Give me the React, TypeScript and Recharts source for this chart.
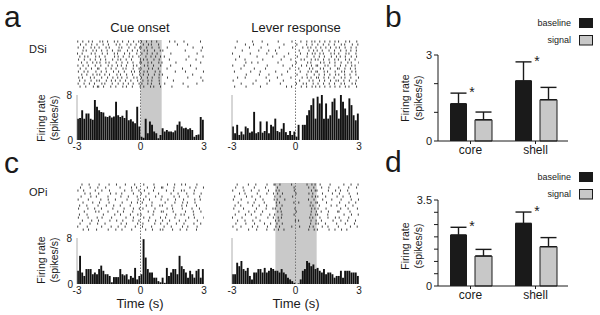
import React from 'react';
import {
  BarChart, Bar, XAxis, YAxis, ScatterChart, Scatter,
  ReferenceArea, ReferenceLine, ErrorBar, LabelList,
} from 'recharts';

const FONT = '"Liberation Sans", Arial, Helvetica, sans-serif';
const INK = '#1a1a1a';
const SHADE = '#c9c9c9';

// PSTH firing rate (spikes/s), 0.1 s bins from -3 s to +3 s
const dsiCueRate = [
  3.8, 3.9, 5.3, 3.8, 4.7, 4.7, 3.8, 3.6, 7.1, 5.9,
  5.3, 5.0, 4.9, 4.2, 4.1, 4.3, 4.0, 4.2, 6.8, 4.4,
  4.1, 4.3, 3.9, 5.3, 3.5, 3.7, 3.3, 3.0, 5.9, 2.4,
  0.6, 0.4, 3.8, 1.2, 3.3, 2.7, 1.5, 1.2, 0.3, 0.9,
  2.1, 1.5, 1.8, 1.5, 1.5, 1.4, 1.7, 2.7, 3.3, 2.4,
  2.1, 2.2, 1.9, 2.1, 1.8, 0.6, 0.9, 1.0, 4.1, 3.6,
];
const dsiLeverRate = [
  2.4, 1.2, 2.7, 0.9, 1.5, 1.0, 2.4, 2.1, 1.3, 1.5,
  5.0, 1.2, 1.4, 3.3, 1.3, 1.6, 3.3, 1.2, 2.7, 2.4,
  3.8, 1.6, 1.4, 2.0, 3.0, 1.4, 0.9, 1.6, 0.9, 1.5,
  0.6, 2.7, 0.0, 2.7, 2.7, 4.4, 5.3, 6.2, 7.4, 3.8,
  7.7, 6.5, 8.0, 3.8, 6.5, 3.8, 4.4, 6.8, 7.4, 5.3,
  3.8, 8.0, 6.8, 5.6, 4.4, 7.4, 6.2, 4.4, 3.5, 4.7,
];
const opiCueRate = [
  2.3, 4.9, 2.0, 1.4, 2.6, 2.6, 2.6, 1.7, 2.0, 1.7,
  2.6, 3.2, 2.3, 1.7, 1.7, 1.4, 0.3, 1.2, 1.2, 1.2,
  2.6, 1.7, 1.5, 1.7, 0.8, 1.4, 1.1, 2.8, 0.8, 1.4,
  1.7, 7.8, 4.6, 2.6, 2.0, 2.0, 1.1, 1.1, 0.5, 0.3,
  1.1, 0.2, 2.8, 1.4, 2.0, 2.6, 2.6, 1.7, 4.9, 3.1,
  2.6, 2.0, 1.1, 2.3, 1.7, 1.1, 2.3, 2.6, 1.1, 2.6,
];
const opiLeverRate = [
  1.7, 1.7, 3.7, 3.1, 4.0, 2.6, 2.3, 2.8, 1.4, 0.8,
  2.0, 2.0, 2.6, 2.6, 2.0, 2.8, 2.0, 2.3, 2.8, 2.6,
  2.3, 2.3, 2.0, 2.6, 2.0, 1.7, 1.1, 0.8, 0.5, 0.2,
  0.0, 0.1, 0.8, 2.3, 2.6, 4.0, 3.7, 3.1, 3.4, 2.6,
  2.8, 2.3, 2.0, 2.6, 1.7, 2.0, 2.0, 1.7, 1.1, 1.4,
  1.4, 2.3, 1.1, 2.3, 2.3, 2.3, 2.0, 2.0, 2.0, 1.4,
];

const timeTicks = [-3, 0, 3];
const rateTicks = [0, 8];

// raster trials: one char per 0.1 s bin from -3 s, a digit marks a spike (offset in 10 ms)
const dsiCueRaster = [
  '3.7..5.2.. 8.1.4..6.2 .5..3.7..1 4.8..2.6.. ...7..2... 5.......3.',
  '.6..2.9..4 ..3.8...5. 2..6.4.9.. .3.7.1..5. .......4.. ..2.......',
  '5..1..6.3. 4..7.2...8 .1..5..3.6 2.9..4..7. ..6....... ....8....2',
  '..8.3..5.1 .6..2.7..4 3..8..1.5. .7.2..6..3 5......... .1......6.',
  '2.4...7.5. .9..3..6.1 ..4.8...2. 6..1.5.8.. ....3..... ......7...',
  '.3.6.1..8. 5..2...7.4 .8..6.3..2 ..5.9..1.4 .2........ ..8......5',
  '7..4..2.6. .1.5..8..3 6..2.7...9 .4.1..3.8. ...6...... .5....2...',
  '..1.7..4.3 8..6.1..5. .2.9..4..7 3..5.2..6. 1.....7... ........4.',
  '4.8..3..6. .2..7.5..1 9..3..6.2. .8.4..1..5 ....2..... ...6......',
  '.5..2.8..7 3..6..1.4. .7.1..5..3 2..8.6..4. ..5......8 ......3...',
  '6..3.1..9. .4.8...2.6 ..3..7.1.5 .6.2..9..1 ......4... .2.......7',
  '..2.6..5.4 7..1.3..8. 5..4..2..6 .3.7..5.8. 3......... ....6.....',
  '8.5...3.1. .6..4.9..2 .1.6..8.3. 4..2.5..7. ..7....... ..3.....5.',
  '.2.7..6..3 5..8..2.1. 3.9..4..6. .1.5.3..8. .....5.... .........4',
  '5..3.8..2. .7.1..6..4 .8..2.5..3 6..4.1..9. .4........ 1.....6...',
  '.4..1..7.6 2.5..9..3. .6.3..1..8 .5..7.2..4 ....8..... ..4.......',
];
const dsiLeverRaster = [
  '..4......7 ....2..... .8......3. ..5..3.7.1 .4.8..2.6. 3..7.5..9.',
  '......3... 1.....8... ....5..... 6....2.8.. 5..1.7..3. .6.2..8..4',
  '.5......2. ...7...... ..3.....6. ...4.8.2.6 .9..3.5..1 7..4..2.6.',
  '....8..... ..6....3.. 5......... .7....3.5. 2.6..8..4. .3.9..1.7.',
  '2.......6. ......4... .1....7... ..3..6.9.2 .5.1..7.3. 4..8.2..5.',
  '...5...... .8.......2 ....6..... 8....4..7. .2.6..9..3 .1.5..3.8.',
  '.7....1... ....5..... ...2...8.. ..6.1..4.3 6..2.8..5. 2..6.4..1.',
  '......5..3 ..2....... .7........ 3....7.2.. .8.4..1.6. .5..7.3..9',
  '3....7.... ......6... ....1...5. ..8..2.5.7 4..9.3..6. .2.7..5.1.',
  '....2..... 5....8.... .......3.. .5....6.1. .7.2..4..8 6..3.9..2.',
  '.1......8. ...3...... 6.....2... ..2..9.4.6 3..5.1..7. .8.1..6.4.',
  '......7... ..9....4.. ...5...... 7....3..8. .1.6..2.9. 4..2.7..5.',
  '..6...2... ......1... .4.....8.. ...1.5.3.9 8..4.6..2. .6.3..1..7',
  '5......... .3.....7.. ....2..... .9....4.2. .3.7..5..1 2.8..4..6.',
  '....3....9 ......5... ..8....... 4..6.1..3. 6..2.9..4. .5.1..7.3.',
  '.2....6... ...4...... .....7..1. ..7..2.8.5 .4.8..3.6. 9..5.2..8.',
];
const opiCueRaster = [
  '..3..7.... 4....1..6. ..8....2.. .5....3... ..7...1..4 .2....6...',
  '.6....2..8 ...5...... 3....7..1. ...2..6..9 5....8.... ...3..1..7',
  '4..1....6. .7...3.... ..5..9...2 .8....1... ..2..6...3 6....4....',
  '...7..2... 2....8..4. .1....6... 3..9....5. ....4..7.. .8...2..6.',
  '.9....5..1 ....6..... 7...2...4. ..5....1.. 1....8..3. ..4....9..',
  '5....3.... .2..7...1. ...6....8. .4..2....7 ..9...5... 3....6..2.',
  '..8....4.. 6....1.... .3...7..5. 8....4.... .6....2..9 ..1..7....',
  '.2..6....9 ...8...3.. 4....1.... ..7..3...1 3...8....5 .7....4...',
  '7....1..3. .5....9... ..2...6..4 .1....8... ..5..1...7 ....3..8..',
  '...4....8. 3...6....2 .9....3... ...6..2..8 7....4.... .2..9...5.',
  '.1..7..... ..4....8.. 5....2..7. 2....9.... ..3...6..1 6....1....',
  '6....2...5 .8....3... ...1..6... .5..3....4 .8....2... ..7..4...9',
  '..5...9... 1....5..7. .6....4..2 ...8...1.. 4..7....3. .3....8...',
  '.4....1..7 ...2...... 8..3....6. .1....7..5 ..6...9... 5....2..4.',
  '3...8..... .6....1..4 ..7....5.. 9....2.... .1..5....8 ..3...7...',
  '..9..4...2 ....7...3. .2...8.... ..4..6...3 5....1..7. .8....4...',
];
const opiLeverRaster = [
  '..4....7.. .2....5..8 3.6.....1. .....4.7.2 .6....3... ..8...2..5',
  '.7...2.... 5....8.... .4.......3 ......2.6. ..3..7.... 4....1..8.',
  '3....6...1 ..7....2.. 8.2......4 .......5.3 1....5..9. .2..6.....',
  '...5..1... .9....4..6 .5.8...... 2.....3.1. ..7....4.. 7....3...2',
  '.2....8..4 ...3...... 2.7.....6. .......8.4 5...2....6 ..4..9....',
  '6...3..... .1..6....9 .3..9..... ......1.7. ..8....1.. .5....3..7',
  '..9....5.. 4....2.... 9.4......2 .5.....3.6 3...6..... 8....2..4.',
  '.4..1....7 ..8...3... .1.6...... ......9.2. .2....8..5 ...6...1..',
  '8....4.... .5....1..3 4.8......7 .......6.1 6...4..... .3..8....2',
  '...2...9.. 7...4..... .6.2...... 3......4.8 ..1..5...9 5....7....',
  '.5....3..1 ...6...8.. 1..5.....3 .......2.5 4....2.... ..9...4..6',
  '2...7..... .3....9..5 .8.3...... ......7.1. .5...3..8. 6....1....',
  '..6...1..8 ...2...... 5.1......9 .4.....3.7 ..2....7.. .4..6...3.',
  '.8....5... 6....3..2. .2.7...... .......1.6 7...1....4 ...5...8..',
  '4...2....6 ..1...7... 7.4.....2. .9....6.3. ..6..3.... 2....9...1',
  '..3....8.. .6....4..9 .9..5..... ......2.8. 3....8..6. .7..2.....',
];

// mean firing rate per region (spikes/s) with SEM
const regions = ['core', 'shell'];
const dsiBaseline = [1.30, 2.10];
const dsiBaselineSem = [0.37, 0.66];
const dsiSignal = [0.74, 1.44];
const dsiSignalSem = [0.27, 0.43];
const opiBaseline = [2.08, 2.55];
const opiBaselineSem = [0.31, 0.46];
const opiSignal = [1.22, 1.60];
const opiSignalSem = [0.27, 0.37];

const PLOT_W = 127;

function parseRaster(rows: string[]) {
  const n = rows.length;
  const pts: { x: number; y: number }[] = [];
  rows.forEach((row, r) => {
    const s = row.replace(/ /g, '');
    for (let i = 0; i < s.length && i < 60; i++) {
      const c = s[i];
      if (c >= '0' && c <= '9') {
        pts.push({ x: -3 + i * 0.1 + Number(c) * 0.01 + 0.005, y: n - 0.5 - r });
      }
    }
  });
  return pts;
}

const SpikeTick = (p: any) => (
  <line x1={p.cx} x2={p.cx} y1={p.cy - 1} y2={p.cy + 1.1} stroke="#222" strokeWidth={0.85} />
);

// tick renderers; the zero labels at the axis origin are drawn in the overlay below
const yTick = (size: number, show: (v: number) => boolean) => (p: any) => {
  const v = p.payload.value;
  return (
    <text x={p.x} y={p.y} dy={size * 0.36} textAnchor="end" fontSize={size} fill={INK} fontFamily={FONT}>
      {show(v) ? String(v) : ''}
    </text>
  );
};

const xTick = (size: number, dy: number) => (p: any) => (
  <text x={p.x} y={p.y} dy={dy} textAnchor="middle" fontSize={size} fill={INK} fontFamily={FONT}>
    {String(p.payload.value)}
  </text>
);

function Raster({ left, top, rows, shade }: { left: number; top: number; rows: string[]; shade?: [number, number] }) {
  const data = parseRaster(rows);
  return (
    <div style={{ position: 'absolute', left, top }}>
      <ScatterChart width={PLOT_W} height={55} margin={{ top: 0, right: 0, bottom: 0, left: 0 }}>
        <XAxis type="number" dataKey="x" domain={[-3, 3]} hide allowDataOverflow height={0} />
        <YAxis type="number" dataKey="y" domain={[-2.3, rows.length]} hide allowDataOverflow width={0} />
        {shade && <ReferenceArea x1={shade[0]} x2={shade[1]} fill={SHADE} fillOpacity={1} stroke="none" />}
        <ReferenceLine x={0} stroke="#777" strokeDasharray="1.5 1.5" />
        <Scatter data={data} shape={SpikeTick} isAnimationActive={false} />
      </ScatterChart>
    </div>
  );
}

function Psth({ left, top, plotH, rates, shade, labels }: {
  left: number; top: number; plotH: number; rates: number[]; shade?: [number, number]; labels?: boolean;
}) {
  const data = rates.map((v, i) => ({ i, t: -3 + i * 0.1 + 0.05, v }));
  return (
    <div style={{ position: 'absolute', left: left - 22, top: top - 6 }}>
      <BarChart width={22 + PLOT_W + 8} height={6 + plotH + 18} data={data}
        margin={{ top: 6, right: 8, bottom: 0, left: 0 }} barCategoryGap={0} barGap={0}>
        <XAxis xAxisId="cat" dataKey="i" hide height={0} />
        <XAxis xAxisId="num" dataKey="t" type="number" domain={[-3, 3]} ticks={timeTicks} interval={0}
          allowDataOverflow axisLine={false} tickLine={false} height={18} tickSize={0} tickMargin={0}
          tick={xTick(10, 10)} />
        <YAxis domain={[0, 8]} ticks={rateTicks} width={22} allowDataOverflow interval={0}
          axisLine={{ stroke: '#999', strokeWidth: 0.8 }} tickLine={false} tickSize={3}
          tick={yTick(10, (v) => !!labels && v !== 0)} />
        {shade && <ReferenceArea xAxisId="num" x1={shade[0]} x2={shade[1]} fill={SHADE} fillOpacity={1} stroke="none" />}
        <ReferenceLine xAxisId="num" x={0} stroke="#777" strokeDasharray="1.5 1.5" />
        <Bar xAxisId="cat" dataKey="v" fill="#111" barSize={2.9} isAnimationActive={false} />
      </BarChart>
    </div>
  );
}

function RateBars({ top, maxY, ticks, base, baseSem, sig, sigSem }: {
  top: number; maxY: number; ticks: number[]; base: number[]; baseSem: number[]; sig: number[]; sigSem: number[];
}) {
  const data = regions.map((r, k) => ({
    r, base: base[k], sig: sig[k], be: [0, baseSem[k]], se: [0, sigSem[k]],
  }));
  const Star = (p: any) => {
    const row = data[p.index];
    if (!row) return null;
    const errTop = p.y - (row.be[1] * p.height) / row.base;
    return (
      <text x={p.x + p.width + 5} y={errTop + 4} textAnchor="middle" fontSize={14} fill={INK} fontFamily={FONT}>*</text>
    );
  };
  return (
    <div style={{ position: 'absolute', left: 415, top: top - 5 }}>
      <BarChart width={160} height={111} data={data} margin={{ top: 5, right: 7, bottom: 0, left: 0 }} barGap={8}>
        <XAxis dataKey="r" axisLine={{ stroke: INK }} tickLine={{ stroke: INK }} tickSize={3} height={20}
          tickMargin={0} tick={xTick(12, 10)} />
        <YAxis domain={[0, maxY]} ticks={ticks} width={23} axisLine={{ stroke: INK }} tickLine={{ stroke: INK }}
          tickSize={4} interval={0} tick={yTick(11, (v) => v === maxY)} />
        <Bar dataKey="base" fill={INK} barSize={17} isAnimationActive={false}>
          <ErrorBar dataKey="be" width={8} strokeWidth={1.4} stroke={INK} direction="y" />
          <LabelList dataKey="base" content={Star} />
        </Bar>
        <Bar dataKey="sig" fill="#c8c8c8" stroke={INK} strokeWidth={1} barSize={17} isAnimationActive={false}>
          <ErrorBar dataKey="se" width={8} strokeWidth={1.4} stroke={INK} direction="y" />
        </Bar>
      </BarChart>
    </div>
  );
}

function YLabel({ x, y }: { x: number; y: number }) {
  return (
    <g transform={`rotate(-90 ${x} ${y})`} fontSize={10.5} fill={INK} textAnchor="middle">
      <text x={x} y={y + 3}>Firing rate</text>
      <text x={x} y={y + 16}>(spikes/s)</text>
    </g>
  );
}

function LegendBox({ y }: { y: number }) {
  return (
    <g fontSize={9} fill={INK} textAnchor="end">
      <text x={571} y={y + 8}>baseline</text>
      <rect x={579} y={y} width={14} height={10} fill={INK} />
      <text x={571} y={y + 25}>signal</text>
      <rect x={579.5} y={y + 17.5} width={13} height={9.5} fill="#c8c8c8" stroke={INK} strokeWidth={1} />
    </g>
  );
}

export default function App() {
  return (
    <div style={{ position: 'absolute', left: 0, top: 0, width: 600, height: 315, background: '#fff', overflow: 'hidden', fontFamily: FONT }}>
      <Raster left={77} top={40} rows={dsiCueRaster} shade={[0, 1]} />
      <Psth left={77} top={95} plotH={45} rates={dsiCueRate} shade={[0, 1]} labels />
      <Raster left={232} top={40} rows={dsiLeverRaster} />
      <Psth left={232} top={95} plotH={45} rates={dsiLeverRate} />

      <Raster left={77} top={183} rows={opiCueRaster} />
      <Psth left={77} top={238} plotH={46} rates={opiCueRate} labels />
      <Raster left={232} top={183} rows={opiLeverRaster} shade={[-0.95, 1]} />
      <Psth left={232} top={238} plotH={46} rates={opiLeverRate} shade={[-0.95, 1]} />

      <RateBars top={55} maxY={3} ticks={[0, 1, 2, 3]} base={dsiBaseline} baseSem={dsiBaselineSem} sig={dsiSignal} sigSem={dsiSignalSem} />
      <RateBars top={200} maxY={3.5} ticks={[0, 0.5, 1, 1.5, 2, 2.5, 3, 3.5]} base={opiBaseline} baseSem={opiBaselineSem} sig={opiSignal} sigSem={opiSignalSem} />

      <svg width={600} height={315} style={{ position: 'absolute', left: 0, top: 0, pointerEvents: 'none' }} fontFamily={FONT}>
        <g fontSize={30} fill={INK}>
          <text x={4} y={27}>a</text>
          <text x={385} y={27}>b</text>
          <text x={4} y={173}>c</text>
          <text x={385} y={172}>d</text>
        </g>
        <g fontSize={13} fill={INK} textAnchor="middle">
          <text x={140} y={32}>Cue onset</text>
          <text x={296} y={32}>Lever response</text>
          <text x={140} y={308}>Time (s)</text>
          <text x={296} y={308}>Time (s)</text>
        </g>
        <g fontSize={11} fill={INK}>
          <text x={29} y={53}>DSi</text>
          <text x={29} y={196}>OPi</text>
        </g>
        <g fill={INK} textAnchor="end">
          <text x={73} y={143.5} fontSize={10}>0</text>
          <text x={73} y={287.5} fontSize={10}>0</text>
          <text x={432} y={145} fontSize={11}>0</text>
          <text x={432} y={290} fontSize={11}>0</text>
        </g>
        <YLabel x={42} y={118} />
        <YLabel x={42} y={260} />
        <YLabel x={406} y={98} />
        <YLabel x={406} y={246} />
        <LegendBox y={18} />
        <LegendBox y={172} />
      </svg>
    </div>
  );
}
